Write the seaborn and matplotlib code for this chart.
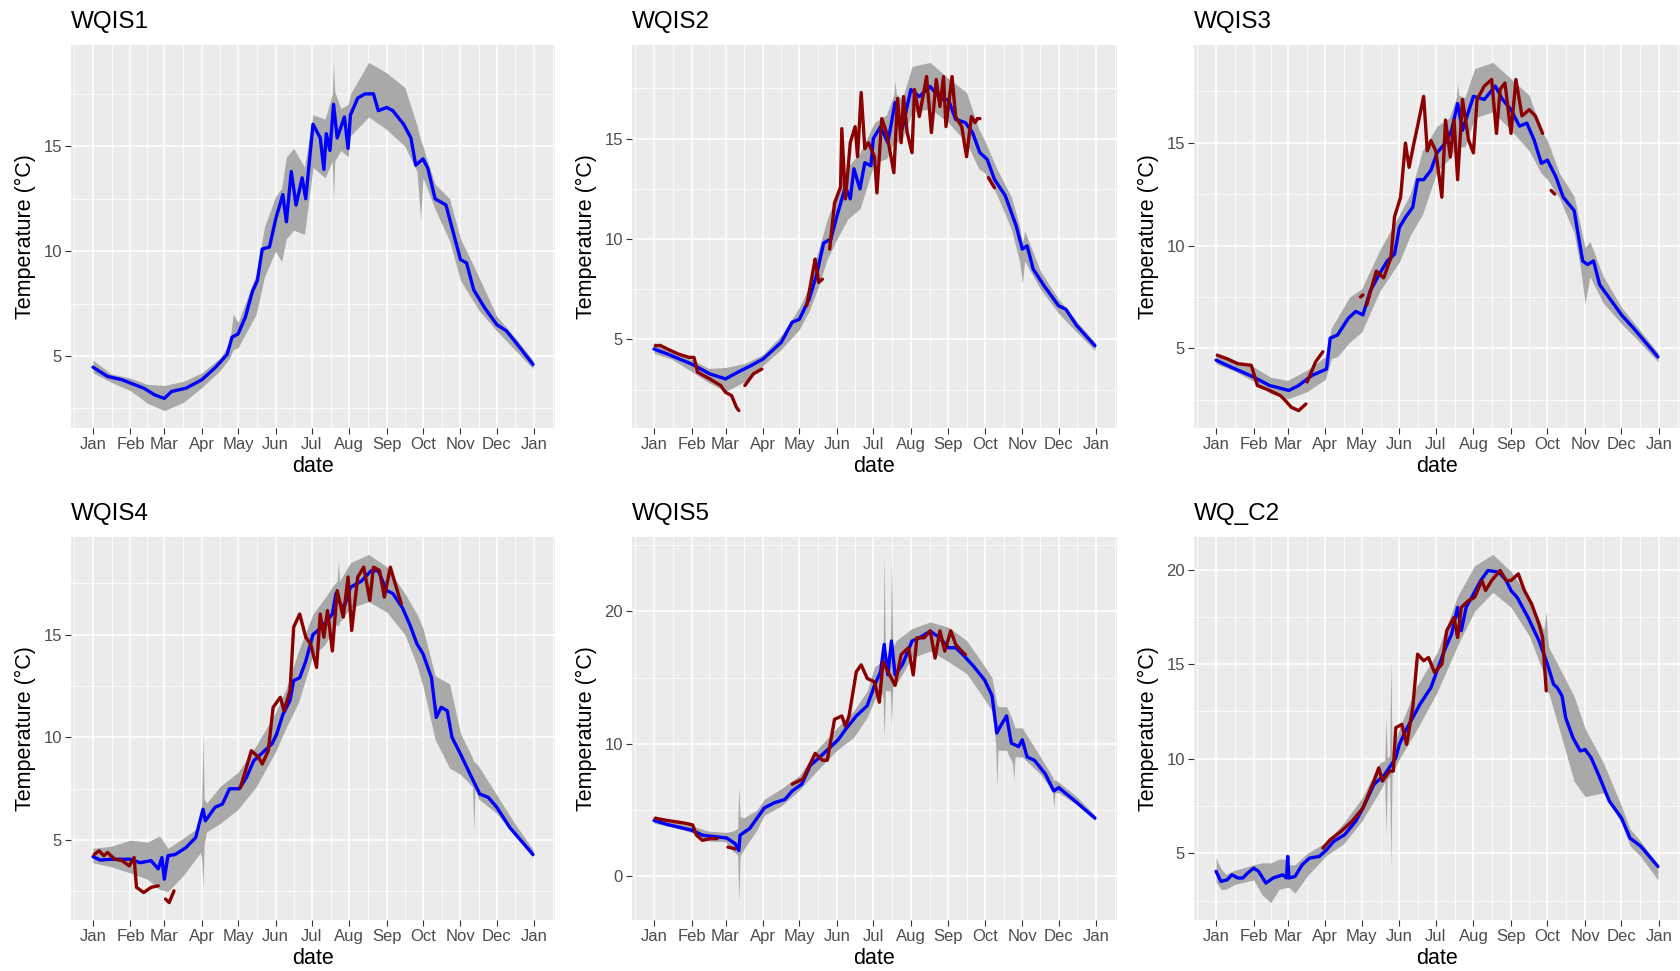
import numpy as np
import pandas as pd
import matplotlib
matplotlib.use("Agg")
import matplotlib.pyplot as plt
from matplotlib.ticker import MultipleLocator, FixedLocator
import seaborn as sns

nan = np.nan

# ---------------- axis data ----------------
month_labels = ["Jan", "Feb", "Mar", "Apr", "May", "Jun", "Jul", "Aug", "Sep", "Oct", "Nov", "Dec", "Jan"]
month_starts = [0, 31, 59, 90, 120, 151, 181, 212, 243, 273, 304, 334, 365]
station_names = ["WQIS1", "WQIS2", "WQIS3", "WQIS4", "WQIS5", "WQ_C2"]
y_steps = [5, 5, 5, 5, 10, 5]

# ---------------- WQIS1 ----------------
wqis1_mean_day = [0, 12, 24, 31, 42, 51, 59, 65, 77, 90, 101, 111, 115, 120, 126, 132, 136, 140, 146, 151, 157, 160,
                  164, 168, 173, 176, 182, 188, 191, 193, 196, 199, 202, 208, 211, 213, 219, 225, 232, 236, 243, 248,
                  257, 263, 267, 273, 277, 283, 292, 298, 304, 309, 315, 324, 334, 342, 351, 364]
wqis1_mean = [4.47, 4.03, 3.87, 3.71, 3.47, 3.15, 2.98, 3.31, 3.47, 3.87, 4.44, 5.08, 5.9, 6.05, 6.85, 8.1, 8.6, 10.1,
              10.2, 11.5, 12.7, 11.4, 13.8, 12.2, 13.5, 12.5, 16.05, 15.4, 13.9, 15.6, 14.8, 17.0, 15.4, 16.4, 14.9,
              16.5, 17.3, 17.5, 17.5, 16.7, 16.85, 16.7, 16.05, 15.4, 14.1, 14.4, 13.95, 12.5, 12.2, 10.9, 9.6, 9.44,
              8.15, 7.3, 6.5, 6.2, 5.56, 4.6]
wqis1_band_day = [0, 15, 31, 45, 59, 75, 90, 105, 113, 116, 120, 135, 142, 151, 156, 160, 166, 175, 182, 192, 198, 199,
                  200, 205, 211, 213, 228, 243, 258, 268, 271, 273, 275, 283, 295, 304, 319, 334, 349, 364]
wqis1_lo = [4.2, 3.75, 3.35, 2.75, 2.4, 2.8, 3.5, 4.3, 4.9, 5.3, 5.4, 7.0, 8.8, 10.0, 9.5, 10.6, 11.0, 10.8, 14.0, 13.5,
            14.3, 12.4, 14.3, 14.8, 14.5, 15.5, 16.4, 15.8, 15.0, 13.8, 11.5, 13.5, 13.2, 12.0, 10.5, 8.6, 7.2, 6.2,
            5.3, 4.4]
wqis1_hi = [4.8, 4.15, 3.95, 3.65, 3.6, 3.8, 4.2, 4.9, 5.6, 7.0, 6.6, 8.9, 11.2, 12.6, 13.0, 14.5, 14.9, 14.0, 16.5,
            16.3, 17.5, 18.95, 17.6, 16.8, 17.0, 17.5, 19.0, 18.5, 17.8, 16.0, 15.3, 15.0, 14.6, 13.2, 12.5, 10.6, 8.8,
            6.9, 5.9, 4.8]
wqis1_obs_day = []
wqis1_obs = []

# ---------------- WQIS2 ----------------
wqis2_mean_day = [0, 11, 31, 46, 59, 69, 80, 90, 105, 114, 120, 128, 134, 140, 146, 151, 158, 162, 165, 170, 174, 179,
                  181, 187, 193, 199, 205, 212, 219, 228, 237, 243, 249, 257, 263, 269, 275, 281, 290, 299, 304, 308,
                  313, 322, 334, 340, 349, 364]
wqis2_mean = [4.52, 4.27, 3.77, 3.28, 3.03, 3.36, 3.69, 4.02, 4.85, 5.85, 6.0, 7.0, 8.17, 9.8, 10.0, 11.15, 12.6, 12.0,
              13.5, 12.5, 13.8, 13.65, 15.0, 15.6, 14.8, 16.8, 15.5, 17.45, 17.1, 17.6, 16.95, 16.95, 15.96, 15.8, 15.3,
              14.3, 13.97, 12.98, 12.15, 10.65, 9.5, 9.66, 8.5, 7.67, 6.67, 6.5, 5.68, 4.68]
wqis2_band_day = [0, 15, 31, 45, 59, 75, 90, 105, 120, 128, 135, 143, 151, 160, 170, 182, 192, 198, 199, 200, 205, 213,
                  228, 243, 258, 268, 273, 283, 295, 302, 304, 306, 319, 334, 349, 364]
wqis2_lo = [4.3, 4.0, 3.4, 2.85, 2.4, 2.9, 3.7, 4.5, 5.5, 6.4, 7.5, 9.0, 10.0, 11.0, 11.5, 13.8, 14.0, 14.8, 14.2, 14.8,
            15.0, 16.3, 16.5, 15.8, 14.8, 13.5, 13.3, 12.2, 10.5, 8.8, 7.8, 8.9, 7.5, 6.3, 5.35, 4.45]
wqis2_hi = [4.85, 4.4, 4.0, 3.55, 3.6, 3.8, 4.25, 5.2, 6.6, 7.6, 9.3, 11.0, 12.2, 13.6, 14.3, 15.8, 16.2, 17.2, 17.9,
            17.2, 17.0, 18.6, 18.8, 18.0, 17.3, 15.5, 14.9, 13.5, 12.1, 10.6, 9.8, 10.4, 8.4, 7.0, 5.9, 4.85]
wqis2_obs_day = [1, 5, 11, 20, 29, 33, 36, 46, 55, 59, 64, 68, 70, nan, 75, 82, 89, nan, 126, 132, 133, 136, 139, nan,
                 145, 149, 154, 155, 158, 162, 166, 168, 171, 174, 177, 182, 184, 188, 192, 195, 198, 201, 204, 206,
                 209, 213, 215, 219, 225, 229, 233, 236, 239, 241, 246, 249, 254, 258, 262, 265, 267, 269, nan, 276, 281]
wqis2_obs = [4.68, 4.7, 4.52, 4.27, 4.1, 4.1, 3.36, 3.03, 2.7, 2.36, 2.2, 1.62, 1.45, nan, 2.7, 3.28, 3.52, nan, 6.67,
             8.67, 9.0, 7.84, 8.0, nan, 9.5, 11.8, 12.6, 15.5, 12.0, 14.8, 15.6, 14.1, 17.3, 14.5, 14.8, 14.1, 12.3,
             16.0, 15.3, 14.3, 13.3, 17.0, 14.8, 17.1, 15.3, 14.3, 17.45, 16.1, 18.1, 15.3, 17.95, 16.6, 18.1, 15.6,
             18.1, 16.1, 15.6, 14.1, 16.1, 15.8, 16.0, 16.0, nan, 13.06, 12.56]

# ---------------- WQIS3 ----------------
wqis3_mean_day = [0, 9, 31, 44, 60, 68, 79, 91, 94, 100, 109, 115, 121, 127, 136, 141, 147, 151, 156, 162, 166, 171,
                  177, 182, 189, 194, 199, 203, 212, 221, 230, 236, 243, 250, 256, 262, 268, 273, 280, 286, 295, 302,
                  306, 311, 316, 324, 334, 344, 364]
wqis3_mean = [4.43, 4.18, 3.61, 3.2, 2.96, 3.2, 3.69, 4.0, 5.5, 5.65, 6.47, 6.8, 6.63, 7.8, 8.76, 9.25, 9.58, 10.88,
              11.37, 11.86, 13.2, 13.2, 13.66, 14.5, 15.0, 15.6, 16.9, 15.6, 17.25, 17.1, 17.75, 17.1, 16.6, 15.8, 15.95,
              15.13, 14.0, 14.15, 13.33, 12.35, 11.7, 9.25, 9.08, 9.25, 8.1, 7.45, 6.63, 5.98, 4.59]
wqis3_band_day = [0, 15, 31, 45, 59, 75, 90, 95, 100, 110, 120, 135, 151, 160, 170, 182, 192, 198, 199, 200, 205, 213,
                  228, 243, 258, 268, 273, 283, 295, 300, 304, 308, 319, 334, 349, 364]
wqis3_lo = [4.25, 3.9, 3.4, 2.8, 2.55, 2.9, 3.5, 4.5, 4.6, 5.3, 5.8, 7.8, 9.2, 10.5, 11.5, 13.6, 14.2, 14.8, 14.5, 14.8,
            14.8, 16.2, 16.5, 15.6, 14.6, 13.5, 13.2, 12.3, 10.6, 9.0, 7.2, 8.5, 7.2, 6.2, 5.3, 4.35]
wqis3_hi = [4.8, 4.3, 4.1, 3.6, 3.45, 3.95, 4.6, 6.0, 6.5, 7.5, 7.9, 9.8, 11.5, 12.5, 14.6, 15.8, 16.2, 17.2, 17.9, 17.3,
            17.2, 18.6, 18.9, 18.1, 17.3, 15.6, 15.1, 13.5, 12.4, 11.0, 9.9, 10.2, 8.5, 7.0, 5.9, 4.8]
wqis3_obs_day = [1, 9, 18, 29, 34, 44, 53, 57, 62, 68, 74, nan, 75, 82, 88, nan, 119, 121, nan, 124, 132, 138, 144, 147,
                 152, 156, 159, 163, 166, 171, 174, 177, 181, 186, 189, 193, 196, 199, 203, 208, 212, 215, 221, 227,
                 231, 234, 238, 243, 247, 252, 258, 263, 268, 269, nan, 276, 279]
wqis3_obs = [4.67, 4.5, 4.26, 4.18, 3.2, 2.96, 2.71, 2.47, 2.14, 1.98, 2.3, nan, 3.37, 4.35, 4.84, nan, 7.5, 7.6, nan,
             7.1, 8.76, 8.43, 9.4, 11.4, 12.35, 14.98, 13.8, 14.98, 15.8, 17.25, 14.6, 15.1, 14.6, 12.35, 16.1, 14.3,
             16.1, 13.2, 17.1, 15.13, 14.5, 17.1, 17.75, 18.07, 15.45, 17.6, 17.9, 15.45, 18.07, 16.3, 16.6, 16.3, 15.6,
             15.45, nan, 12.68, 12.5]

# ---------------- WQIS4 ----------------
wqis4_mean_day = [0, 6, 15, 31, 39, 48, 54, 57, 59, 62, 68, 77, 85, 91, 93, 101, 107, 113, 121, 127, 133, 142, 148, 152,
                  157, 163, 166, 171, 176, 182, 189, 198, 201, 207, 213, 222, 230, 236, 243, 248, 256, 262, 268, 273,
                  280, 284, 288, 293, 297, 304, 312, 320, 327, 334, 345, 364]
wqis4_mean = [4.19, 4.03, 4.07, 4.07, 3.9, 4.0, 3.6, 4.15, 3.1, 4.24, 4.3, 4.64, 5.13, 6.5, 5.94, 6.6, 6.75, 7.5, 7.5,
              8.05, 8.86, 9.35, 9.68, 10.16, 11.1, 11.8, 12.76, 12.9, 13.7, 15.0, 15.35, 16.0, 17.0, 16.2, 17.3, 17.6,
              18.1, 18.1, 17.14, 17.0, 16.3, 15.5, 14.55, 14.06, 12.9, 10.97, 11.46, 11.3, 10.0, 9.19, 8.2, 7.24, 7.08,
              6.6, 5.6, 4.3]
wqis4_band_day = [0, 15, 31, 45, 55, 62, 75, 89, 90, 91, 92, 94, 105, 120, 135, 151, 160, 170, 182, 192, 199, 202, 203,
                  204, 213, 228, 243, 258, 268, 273, 283, 295, 304, 314, 315, 316, 319, 334, 349, 364]
wqis4_lo = [3.9, 3.7, 3.4, 3.1, 2.6, 2.5, 3.3, 4.4, 4.0, 2.7, 4.8, 5.4, 5.8, 6.5, 7.6, 9.3, 10.5, 11.7, 14.0, 14.5, 15.3,
            15.5, 15.4, 15.6, 16.3, 16.6, 16.1, 15.0, 13.5, 12.5, 9.9, 8.5, 8.2, 7.6, 5.4, 7.5, 7.0, 6.3, 5.2, 4.15]
wqis4_hi = [4.6, 4.7, 5.0, 4.9, 5.2, 4.6, 5.1, 5.7, 7.0, 10.2, 7.0, 6.8, 7.6, 8.3, 9.6, 11.2, 12.4, 14.2, 16.0, 16.8,
            17.4, 17.6, 18.6, 17.6, 18.5, 18.9, 18.3, 17.0, 16.0, 15.3, 13.0, 12.6, 10.2, 9.0, 8.8, 8.8, 8.6, 7.2, 5.8,
            4.55]
wqis4_obs_day = [1, 5, 9, 12, 18, 24, 30, 34, 36, 42, 48, 54, nan, 60, 63, 67, nan, 122, 131, 137, 140, 145, 149, 155,
                 158, 163, 166, 171, 176, 180, 185, 188, 191, 194, 198, 202, 207, 211, 214, 219, 224, 229, 232, 237,
                 241, 246, 250, 255]
wqis4_obs = [4.3, 4.48, 4.24, 4.4, 4.07, 4.0, 3.75, 4.15, 2.7, 2.45, 2.7, 2.78, nan, 2.13, 1.96, 2.53, nan, 7.56, 9.35,
             9.03, 8.7, 9.35, 11.46, 11.95, 11.3, 12.27, 15.36, 16.0, 14.87, 14.55, 13.4, 16.0, 14.87, 16.17, 14.2,
             17.14, 15.85, 17.8, 15.2, 17.8, 18.28, 16.66, 18.28, 18.12, 16.82, 18.28, 17.47, 16.5]

# ---------------- WQIS5 ----------------
wqis5_mean_day = [0, 11, 31, 40, 52, 60, 67, 70, 71, 79, 83, 91, 99, 108, 114, 122, 129, 134, 143, 152, 158, 167, 176,
                  182, 187, 190, 193, 196, 199, 205, 213, 219, 228, 236, 243, 249, 255, 264, 273, 279, 283, 286, 291,
                  295, 301, 304, 308, 314, 323, 330, 334, 346, 364]
wqis5_mean = [4.2, 3.9, 3.47, 3.09, 2.96, 2.88, 2.45, 1.93, 3.09, 3.6, 4.12, 5.15, 5.53, 5.79, 6.43, 6.95, 8.37, 8.75,
              9.52, 10.3, 11.07, 12.1, 12.87, 14.4, 15.44, 17.5, 15.2, 17.76, 15.2, 15.96, 17.76, 18.0, 18.5, 18.0,
              17.25, 17.25, 16.73, 15.83, 14.8, 13.64, 10.81, 11.33, 12.1, 10.04, 9.78, 10.3, 9.0, 8.75, 7.72, 6.43,
              6.69, 5.79, 4.38]
wqis5_band_day = [0, 15, 31, 45, 59, 65, 69, 70, 71, 74, 85, 91, 105, 120, 135, 151, 165, 176, 182, 188, 189, 190, 191,
                  195, 196, 197, 200, 213, 228, 243, 258, 268, 279, 282, 283, 284, 291, 296, 297, 298, 304, 319, 329,
                  330, 331, 334, 349, 364]
wqis5_lo = [4.0, 3.7, 3.3, 2.65, 2.6, 1.9, 1.6, -2.0, 1.5, 2.0, 3.5, 4.6, 5.3, 6.5, 8.0, 9.5, 10.5, 12.0, 13.3, 13.8,
            13.5, 10.4, 14.0, 14.0, 11.4, 14.3, 14.5, 16.5, 17.0, 16.2, 15.3, 14.0, 12.5, 10.0, 6.7, 9.5, 9.5, 8.5, 7.2,
            9.0, 9.0, 7.7, 6.4, 5.15, 6.3, 6.3, 5.4, 4.2]
wqis5_hi = [4.5, 4.1, 3.8, 3.4, 3.3, 3.4, 3.6, 6.8, 4.5, 4.4, 5.0, 5.8, 6.6, 7.6, 9.6, 11.2, 12.5, 14.0, 15.8, 16.2,
            16.5, 24.3, 16.5, 16.8, 24.0, 17.3, 17.8, 18.7, 19.2, 18.8, 17.8, 16.5, 15.0, 13.5, 13.0, 12.8, 12.8, 11.8,
            11.5, 11.2, 11.2, 9.0, 7.5, 7.2, 7.3, 7.1, 6.0, 4.6]
wqis5_obs_day = [1, 8, 17, 26, 32, 35, 40, 46, 52, nan, 61, 67, nan, 114, 123, 129, 133, 139, 143, 149, 155, 158, 161,
                 167, 171, 176, 182, 186, 189, 193, 199, 204, 210, 214, 217, 223, 228, 232, 236, 240, 245, 249, 254, 257]
wqis5_obs = [4.38, 4.25, 4.12, 3.99, 3.86, 3.09, 2.7, 2.83, 2.83, nan, 2.19, 2.06, nan, 6.95, 7.34, 8.5, 9.27, 8.75,
             8.75, 11.84, 12.1, 11.33, 12.1, 15.44, 15.96, 14.93, 14.67, 13.13, 16.2, 15.44, 14.41, 16.73, 17.25, 15.19,
             18.0, 18.0, 18.53, 16.47, 18.53, 16.99, 18.53, 17.5, 16.99, 16.73]

# ---------------- WQ_C2 ----------------
wqc2_mean_day = [0, 4, 9, 13, 18, 22, 26, 31, 35, 41, 47, 55, 58, 59, 60, 65, 71, 77, 85, 91, 97, 106, 115, 121, 130,
                 139, 148, 151, 156, 162, 168, 177, 182, 188, 194, 199, 202, 206, 212, 218, 224, 233, 239, 243, 248, 257,
                 266, 273, 278, 281, 285, 288, 294, 300, 304, 309, 315, 324, 334, 341, 350, 364]
wqc2_mean = [4.05, 3.52, 3.6, 3.87, 3.7, 3.7, 3.96, 4.22, 4.05, 3.43, 3.7, 3.87, 3.7, 4.84, 3.7, 3.78, 4.4, 4.75, 4.84,
             5.19, 5.64, 5.99, 6.7, 7.4, 8.64, 9.17, 10.05, 10.76, 11.47, 12.17, 12.88, 13.76, 14.65, 15.7, 16.59, 18.0,
             16.77, 18.0, 18.7, 19.42, 19.95, 19.86, 19.42, 18.89, 18.53, 17.47, 16.24, 15.0, 13.94, 13.76, 13.32,
             12.17, 11.11, 10.41, 10.49, 10.05, 9.17, 7.76, 6.87, 5.81, 5.37, 4.31]
wqc2_band_day = [0, 1, 4, 8, 15, 31, 38, 45, 52, 58, 59, 60, 65, 75, 91, 105, 120, 135, 139, 140, 141, 143, 144, 145,
                 151, 165, 182, 199, 213, 228, 243, 258, 270, 272, 273, 274, 283, 295, 304, 319, 334, 341, 349, 364]
wqc2_lo = [3.5, 3.4, 3.1, 3.1, 3.35, 3.6, 2.8, 2.4, 3.1, 3.2, 3.2, 3.2, 2.9, 3.8, 4.9, 5.5, 6.7, 8.3, 8.8, 6.0, 8.9, 9.1,
           4.3, 9.2, 10.0, 11.5, 13.5, 16.0, 17.8, 18.8, 18.0, 16.5, 14.5, 14.3, 13.5, 13.5, 11.5, 8.8, 8.0, 8.2, 6.6,
           5.4, 4.9, 3.6]
wqc2_hi = [4.8, 4.6, 4.2, 3.9, 4.1, 4.4, 4.5, 4.5, 4.7, 4.7, 4.85, 4.4, 4.4, 5.0, 5.6, 6.6, 7.9, 9.8, 9.9, 12.2, 10.0,
           10.2, 15.2, 10.4, 11.6, 13.8, 15.6, 18.6, 20.2, 20.8, 19.9, 18.5, 16.8, 17.8, 16.5, 15.9, 14.8, 13.3, 11.6,
           9.8, 7.5, 6.3, 5.7, 4.4]
wqc2_obs_day = [88, 94, 103, 112, 121, 130, 134, 137, 143, 146, 148, 153, 157, 162, 166, 171, 175, 180, 186, 190, 196,
                199, 202, 208, 213, 219, 222, 227, 234, 239, 243, 249, 254, 260, 266, 269, 272]
wqc2_obs = [5.28, 5.72, 6.17, 6.7, 7.4, 8.82, 9.52, 8.82, 9.35, 9.35, 11.64, 11.82, 10.76, 12.7, 15.53, 15.18, 15.35,
            14.56, 15.0, 16.77, 17.47, 16.41, 18.0, 18.36, 18.53, 19.42, 18.89, 19.42, 19.95, 19.42, 19.42, 19.77,
            18.89, 18.18, 17.12, 16.41, 13.59]

stations = [
    (wqis1_mean_day, wqis1_mean, wqis1_band_day, wqis1_lo, wqis1_hi, wqis1_obs_day, wqis1_obs),
    (wqis2_mean_day, wqis2_mean, wqis2_band_day, wqis2_lo, wqis2_hi, wqis2_obs_day, wqis2_obs),
    (wqis3_mean_day, wqis3_mean, wqis3_band_day, wqis3_lo, wqis3_hi, wqis3_obs_day, wqis3_obs),
    (wqis4_mean_day, wqis4_mean, wqis4_band_day, wqis4_lo, wqis4_hi, wqis4_obs_day, wqis4_obs),
    (wqis5_mean_day, wqis5_mean, wqis5_band_day, wqis5_lo, wqis5_hi, wqis5_obs_day, wqis5_obs),
    (wqc2_mean_day, wqc2_mean, wqc2_band_day, wqc2_lo, wqc2_hi, wqc2_obs_day, wqc2_obs),
]

# ---------------- styling ----------------
sns.set_theme(style="darkgrid")
plt.rcParams["font.family"] = ["Liberation Sans", "DejaVu Sans"]

W, H = 1680, 971
fig = plt.figure(figsize=(W / 100, H / 100), dpi=100)
fig.patch.set_facecolor("white")

col_left = [71, 632, 1194]
col_width = [484, 485, 486]
row_top = [45, 537]
row_h = 383

RIBBON = "#A9A9A9"
BLUE = "#0000FF"
RED = "#8B0000"


def obs_frame(days, vals):
    rows = []
    seg = 0
    for d, v in zip(days, vals):
        if np.isnan(d) or np.isnan(v):
            seg += 1
            continue
        rows.append((d, v, seg))
    return pd.DataFrame(rows, columns=["day", "temp", "seg"])


x_lo, x_hi = 0, 364
x_pad = 0.05 * (x_hi - x_lo)
minor_x = [(a + b) / 2 for a, b in zip(month_starts[:-1], month_starts[1:])]
minor_x = [month_starts[0] - (month_starts[1] - month_starts[0]) / 2] + minor_x + \
          [month_starts[-1] + (month_starts[-1] - month_starts[-2]) / 2]

for i, (name, st, step) in enumerate(zip(station_names, stations, y_steps)):
    r, c = divmod(i, 3)
    left = col_left[c] / W
    bottom = 1 - (row_top[r] + row_h) / H
    ax = fig.add_axes([left, bottom, col_width[c] / W, row_h / H])
    mday, mval, bday, blo, bhi, oday, oval = st

    ax.fill_between(bday, blo, bhi, color=RIBBON, linewidth=0, zorder=2)
    sns.lineplot(x=mday, y=mval, color=BLUE, linewidth=2.4, estimator=None, ax=ax, zorder=3)
    if len(oday):
        df = obs_frame(oday, oval)
        sns.lineplot(data=df, x="day", y="temp", units="seg", estimator=None, color=RED,
                     linewidth=2.4, ax=ax, legend=False, zorder=4)

    # limits with ggplot-like 5% expansion
    allv = [v for v in list(blo) + list(bhi) + list(mval) + list(oval) if not np.isnan(v)]
    y0, y1 = min(allv), max(allv)
    ypad = 0.05 * (y1 - y0)
    ax.set_xlim(x_lo - x_pad, x_hi + x_pad)
    ax.set_ylim(y0 - ypad, y1 + ypad)

    ax.set_facecolor("#EBEBEB")
    for s in ax.spines.values():
        s.set_visible(False)
    ax.xaxis.set_major_locator(FixedLocator(month_starts))
    ax.set_xticklabels(month_labels)
    ax.xaxis.set_minor_locator(FixedLocator(minor_x))
    ax.yaxis.set_major_locator(MultipleLocator(step))
    ax.yaxis.set_minor_locator(MultipleLocator(step / 2))
    ax.grid(True, which="major", color="white", linewidth=1.1, zorder=0)
    ax.grid(True, which="minor", color="white", linewidth=0.55, zorder=0)
    ax.set_axisbelow(True)
    ax.tick_params(which="major", length=4, width=0.8, color="#333333", labelcolor="#4D4D4D",
                   labelsize=12, pad=2.5, bottom=True, left=True)
    ax.tick_params(which="minor", length=0)

    ax.set_xlabel("date", fontsize=15.5, color="black")
    ax.set_ylabel("Temperature (°C)", fontsize=15.5, color="black")
    ax.xaxis.set_label_coords(0.5, -0.072)
    ax.yaxis.set_label_coords(-0.072, 0.5)
    ax.set_title(name, loc="left", fontsize=17.5, color="black", pad=12)

fig.savefig("out.png", dpi=100)
